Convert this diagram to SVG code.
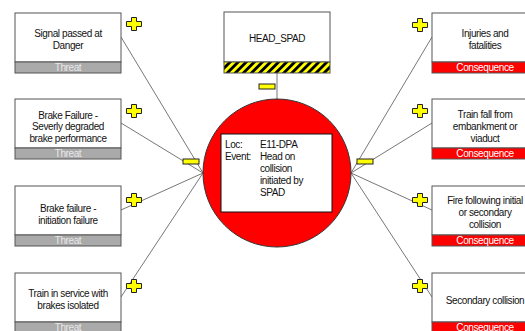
<svg xmlns="http://www.w3.org/2000/svg" width="525" height="331" viewBox="0 0 525 331">
<style>
  text { font-family: "Liberation Sans", Arial, sans-serif; font-size: 10px; letter-spacing: -0.4px; fill: #111; }
  .ctr { text-anchor: middle; }
  .box { fill: #fff; stroke: #555; stroke-width: 1; }
  .thr { fill: #aaaaaa; stroke: #555; stroke-width: 1; }
  .con { fill: #ff0000; stroke: #555; stroke-width: 1; }
  .thrt { fill: #e8e8e8; }
  .cont { fill: #fff; }
  .conn line { stroke: #777; stroke-width: 1; }
  .plus { fill: #ffff00; stroke: #222; stroke-width: 1; }
  .minus { fill: #ffff00; stroke: #222; stroke-width: 1; }
</style>
<defs>
  <pattern id="haz" patternUnits="userSpaceOnUse" width="5.7" height="5.7" patternTransform="rotate(45)">
    <rect width="5.7" height="5.7" fill="#ffff00"/>
    <rect width="2.85" height="5.7" fill="#000"/>
  </pattern>
  <path id="p" d="M-2.5,-6.5 H2.5 V-2.5 H7.5 V2.5 H2.5 V6.5 H-2.5 V2.5 H-7.5 V-2.5 H-2.5 Z"/>
</defs>

<g id="connectors" class="conn">
  <line x1="277" y1="73" x2="277" y2="99"/>
  <line x1="121" y1="37" x2="203" y2="173"/>
  <line x1="121" y1="123" x2="203" y2="173"/>
  <line x1="121" y1="210" x2="203" y2="173"/>
  <line x1="121" y1="297" x2="203" y2="173"/>
  <line x1="432" y1="37" x2="351" y2="173"/>
  <line x1="432" y1="123" x2="351" y2="173"/>
  <line x1="432" y1="210" x2="351" y2="173"/>
  <line x1="432" y1="297" x2="351" y2="173"/>
</g>

<g id="hazard">
  <rect class="box" x="224" y="12" width="106" height="50"/>
  <rect x="224" y="62" width="106" height="11" fill="url(#haz)" stroke="#555"/>
  <text class="ctr" x="277" y="42">HEAD_SPAD</text>
</g>

<g id="topevent">
  <circle cx="277" cy="173" r="74" fill="#ff0000" stroke="#333" stroke-width="1"/>
  <rect x="221" y="134" width="111" height="78" fill="#fff" stroke="#111"/>
  <text x="225" y="148">Loc:</text>
  <text x="260" y="148">E11-DPA</text>
  <text x="225" y="160">Event:</text>
  <text x="260" y="160">Head on</text>
  <text x="260" y="172">collision</text>
  <text x="260" y="184">initiated by</text>
  <text x="260" y="196">SPAD</text>
</g>

<g id="threat1">
  <rect class="box" x="15" y="13" width="106" height="49"/>
  <rect class="thr" x="15" y="62" width="106" height="11"/>
  <text class="ctr" x="68" y="36.5">Signal passed at</text>
  <text class="ctr" x="68" y="48.5">Danger</text>
  <text class="ctr thrt" x="68" y="71">Threat</text>
</g>
<g id="threat2">
  <rect class="box" x="15" y="99" width="106" height="49"/>
  <rect class="thr" x="15" y="148" width="106" height="11"/>
  <text class="ctr" x="68" y="118.5">Brake Failure -</text>
  <text class="ctr" x="68" y="130">Severly degraded</text>
  <text class="ctr" x="68" y="141.5">brake performance</text>
  <text class="ctr thrt" x="68" y="157">Threat</text>
</g>
<g id="threat3">
  <rect class="box" x="15" y="186" width="106" height="49"/>
  <rect class="thr" x="15" y="235" width="106" height="11"/>
  <text class="ctr" x="68" y="211.5">Brake failure -</text>
  <text class="ctr" x="68" y="223.5">initiation failure</text>
  <text class="ctr thrt" x="68" y="244">Threat</text>
</g>
<g id="threat4">
  <rect class="box" x="15" y="273" width="106" height="49"/>
  <rect class="thr" x="15" y="322" width="106" height="11"/>
  <text class="ctr" x="68" y="296.5">Train in service with</text>
  <text class="ctr" x="68" y="308.5">brakes isolated</text>
  <text class="ctr thrt" x="68" y="331">Threat</text>
</g>

<g id="cons1">
  <rect class="box" x="432" y="13" width="106" height="49"/>
  <rect class="con" x="432" y="62" width="106" height="11"/>
  <text class="ctr" x="485" y="36.5">Injuries and</text>
  <text class="ctr" x="485" y="48.5">fatalities</text>
  <text class="ctr cont" x="485" y="71">Consequence</text>
</g>
<g id="cons2">
  <rect class="box" x="432" y="99" width="106" height="49"/>
  <rect class="con" x="432" y="148" width="106" height="11"/>
  <text class="ctr" x="485" y="117.5">Train fall from</text>
  <text class="ctr" x="485" y="129.5">embankment or</text>
  <text class="ctr" x="485" y="141.5">viaduct</text>
  <text class="ctr cont" x="485" y="157">Consequence</text>
</g>
<g id="cons3">
  <rect class="box" x="432" y="186" width="106" height="49"/>
  <rect class="con" x="432" y="235" width="106" height="11"/>
  <text class="ctr" x="485" y="203.5">Fire following initial</text>
  <text class="ctr" x="485" y="215.5">or secondary</text>
  <text class="ctr" x="485" y="228">collision</text>
  <text class="ctr cont" x="485" y="244">Consequence</text>
</g>
<g id="cons4">
  <rect class="box" x="432" y="273" width="106" height="49"/>
  <rect class="con" x="432" y="322" width="106" height="11"/>
  <text class="ctr" x="485" y="303.5">Secondary collision</text>
  <text class="ctr cont" x="485" y="331">Consequence</text>
</g>

<g id="controls">
  <rect class="minus" x="259" y="84" width="16" height="5"/>
  <rect class="minus" x="183" y="159" width="16" height="5"/>
  <rect class="minus" x="357" y="159" width="16" height="5"/>
  <use href="#p" class="plus" x="134" y="24"/>
  <use href="#p" class="plus" x="134" y="111"/>
  <use href="#p" class="plus" x="134" y="200"/>
  <use href="#p" class="plus" x="134" y="286"/>
  <use href="#p" class="plus" x="420" y="25"/>
  <use href="#p" class="plus" x="420" y="111"/>
  <use href="#p" class="plus" x="420" y="200"/>
  <use href="#p" class="plus" x="420" y="286"/>
</g>
</svg>
